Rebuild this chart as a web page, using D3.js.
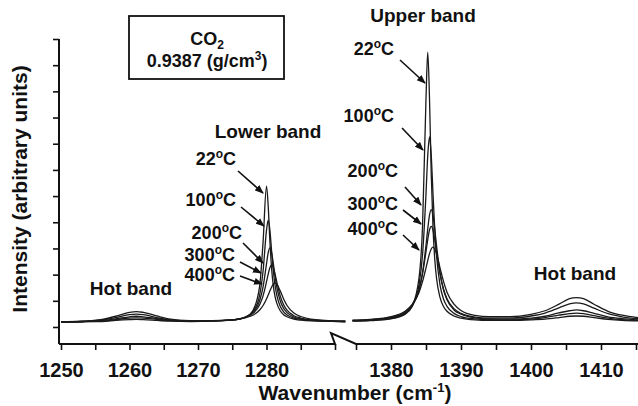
<!DOCTYPE html>
<html>
<head>
<meta charset="utf-8">
<script src="https://cdn.jsdelivr.net/npm/d3@7"></script>
<style>
body { margin: 0; background: #fff; }
text { font-family: "Liberation Sans", Arial, sans-serif; font-weight: bold; fill: #111; }
</style>
</head>
<body>
<div id="container"></div>
<script>
// temperatures of the five spectra
var temps = ['22', '100', '200', '300', '400'];

// lower band segment (Fermi dyad lower component + hot band)
var lowerWn = [1250, 1253, 1256, 1258, 1260, 1261, 1262, 1264, 1266, 1269, 1272, 1275, 1277, 1278, 1279, 1279.5,
    1280, 1280.25, 1280.5, 1280.75, 1281, 1281.25, 1281.5, 1282, 1282.5, 1283, 1284, 1285, 1286.5, 1288.5, 1291.5];
var lower22 = [1.19, 1.20, 1.21, 1.25, 1.28, 1.29, 1.28, 1.25, 1.22, 1.21, 1.22, 1.26, 1.39, 1.62, 2.56, 4.25,
    6.38, 5.61, 4.25, 3.22, 2.56, 2.16, 1.91, 1.62, 1.47, 1.39, 1.30, 1.26, 1.23, 1.22, 1.20];
var lower100 = [1.19, 1.20, 1.23, 1.28, 1.34, 1.35, 1.34, 1.29, 1.24, 1.22, 1.23, 1.27, 1.39, 1.58, 2.22, 3.14,
    4.69, 5.08, 4.69, 3.88, 3.14, 2.59, 2.22, 1.79, 1.58, 1.46, 1.34, 1.29, 1.25, 1.22, 1.21];
var lower200 = [1.19, 1.21, 1.25, 1.31, 1.39, 1.41, 1.39, 1.32, 1.25, 1.23, 1.23, 1.27, 1.38, 1.55, 2.00, 2.53,
    3.41, 3.84, 4.02, 3.84, 3.41, 2.93, 2.53, 2.00, 1.71, 1.55, 1.38, 1.31, 1.26, 1.23, 1.21];
var lower300 = [1.20, 1.21, 1.27, 1.36, 1.47, 1.49, 1.47, 1.36, 1.27, 1.24, 1.23, 1.27, 1.38, 1.51, 1.85, 2.19,
    2.72, 3.02, 3.27, 3.37, 3.27, 3.02, 2.72, 2.19, 1.85, 1.64, 1.43, 1.34, 1.27, 1.24, 1.22];
var lower400 = [1.20, 1.22, 1.29, 1.41, 1.56, 1.59, 1.56, 1.42, 1.30, 1.24, 1.24, 1.27, 1.36, 1.45, 1.65, 1.82,
    2.07, 2.22, 2.38, 2.53, 2.64, 2.68, 2.64, 2.38, 2.07, 1.82, 1.53, 1.40, 1.30, 1.25, 1.22];

// upper band segment
var upperWn = [1374.5, 1377, 1380, 1382, 1383, 1384, 1384.5, 1385, 1385.25, 1385.5, 1385.75, 1386, 1386.25, 1386.5,
    1387, 1387.5, 1388, 1389, 1390, 1392, 1394, 1397, 1400, 1402, 1404, 1405.5, 1406.5, 1407.5, 1409, 1411, 1413, 1415.5];
var upper22 = [1.22, 1.24, 1.31, 1.48, 1.78, 2.87, 4.80, 9.73, 11.50, 9.73, 6.84, 4.80, 3.59, 2.87,
    2.13, 1.78, 1.60, 1.42, 1.34, 1.27, 1.25, 1.25, 1.27, 1.30, 1.36, 1.41, 1.42, 1.41, 1.36, 1.29, 1.25, 1.23];
var upper100 = [1.23, 1.25, 1.33, 1.51, 1.78, 2.61, 3.74, 6.09, 7.55, 8.26, 7.55, 6.09, 4.73, 3.74,
    2.61, 2.07, 1.79, 1.52, 1.40, 1.31, 1.28, 1.27, 1.30, 1.36, 1.45, 1.51, 1.53, 1.51, 1.43, 1.34, 1.28, 1.25];
var upper200 = [1.24, 1.27, 1.35, 1.54, 1.79, 2.41, 3.07, 4.12, 4.75, 5.27, 5.48, 5.27, 4.75, 4.12,
    3.08, 2.42, 2.04, 1.65, 1.49, 1.35, 1.31, 1.30, 1.34, 1.41, 1.54, 1.62, 1.65, 1.62, 1.52, 1.39, 1.32, 1.27];
var upper300 = [1.25, 1.28, 1.37, 1.57, 1.83, 2.44, 3.03, 3.88, 4.34, 4.70, 4.84, 4.70, 4.34, 3.88,
    3.04, 2.45, 2.08, 1.70, 1.52, 1.38, 1.34, 1.34, 1.42, 1.53, 1.73, 1.88, 1.92, 1.88, 1.72, 1.51, 1.39, 1.31];
var upper400 = [1.26, 1.29, 1.40, 1.60, 1.85, 2.32, 2.73, 3.26, 3.54, 3.80, 3.98, 4.05, 3.98, 3.80,
    3.26, 2.74, 2.33, 1.87, 1.63, 1.44, 1.39, 1.39, 1.48, 1.62, 1.87, 2.08, 2.12, 2.08, 1.87, 1.60, 1.45, 1.35];

// axis ticks
var lowerTicks = [1250, 1255, 1260, 1265, 1270, 1275, 1280, 1285, 1290];
var lowerLabels = [1250, 1260, 1270, 1280];
var upperTicks = [1375, 1380, 1385, 1390, 1395, 1400, 1405, 1410, 1415];
var upperLabels = [1380, 1390, 1400, 1410];
var yTicks = [1, 2, 3, 4, 5, 6, 7, 8, 9, 10, 11, 12];

var lowerSeries = [lower22, lower100, lower200, lower300, lower400];
var upperSeries = [upper22, upper100, upper200, upper300, upper400];

var W = 638, H = 406;
var svg = d3.select('#container').append('svg')
    .attr('width', W).attr('height', H)
    .style('display', 'block');

var defs = svg.append('defs');
defs.append('marker')
    .attr('id', 'head')
    .attr('viewBox', '0 -4 9 8')
    .attr('refX', 8).attr('refY', 0)
    .attr('markerUnits', 'userSpaceOnUse')
    .attr('markerWidth', 9).attr('markerHeight', 8)
    .attr('orient', 'auto')
    .append('path').attr('d', 'M0,-3.5L9,0L0,3.5Z').attr('fill', '#111');

var xAxisY = 344, yAxisX = 59;
var xl = d3.scaleLinear().domain([1250, 1290]).range([61, 335]);
var xr = d3.scaleLinear().domain([1375, 1415]).range([356, 636]);
var y = d3.scaleLinear().domain([0.35, 12]).range([xAxisY, 39]);

// spectra
function drawSegment(wn, series, x) {
    var line = d3.line()
        .x(function (d, i) { return x(wn[i]); })
        .y(function (d) { return y(d); })
        .curve(d3.curveMonotoneX);
    svg.append('g').selectAll('path')
        .data(series)
        .enter().append('path')
        .attr('d', line)
        .attr('fill', 'none')
        .attr('stroke', '#1a1a1a')
        .attr('stroke-width', 1.3);
}
drawSegment(lowerWn, lowerSeries, xl);
drawSegment(upperWn, upperSeries, xr);

// y axis (ticks only, no labels)
var yAxis = svg.append('g')
    .attr('transform', 'translate(' + yAxisX + ',0)')
    .call(d3.axisLeft(y).tickValues(yTicks).tickSize(6).tickFormat(''));
yAxis.select('.domain').remove();
yAxis.selectAll('.tick line').attr('stroke', '#111').attr('stroke-width', 1.6);
svg.append('line')
    .attr('x1', yAxisX).attr('x2', yAxisX).attr('y1', 39).attr('y2', xAxisY)
    .attr('stroke', '#111').attr('stroke-width', 2);

// broken x axis
function drawXAxis(x, ticks, labels) {
    var g = svg.append('g')
        .attr('transform', 'translate(0,' + xAxisY + ')')
        .call(d3.axisBottom(x).tickValues(ticks).tickSize(6)
            .tickFormat(function (d) { return labels.indexOf(d) >= 0 ? d : ''; }));
    g.select('.domain').remove();
    g.selectAll('.tick line').attr('stroke', '#111').attr('stroke-width', 1.6);
    g.selectAll('.tick text')
        .attr('y', 0).attr('dy', 0)
        .attr('transform', 'translate(0,33)')
        .style('font-size', '20px')
        .style('font-family', '"Liberation Sans", Arial, sans-serif')
        .style('font-weight', 'bold')
        .attr('fill', '#111');
}
drawXAxis(xl, lowerTicks, lowerLabels);
drawXAxis(xr, upperTicks, upperLabels);

svg.append('path')
    .attr('d', 'M' + yAxisX + ',' + xAxisY + 'H' + xl(1290) +
        'L' + (xl(1290) - 4) + ',' + (xAxisY - 11) +
        'L' + xr(1375) + ',' + xAxisY + 'H' + W)
    .attr('fill', 'none')
    .attr('stroke', '#111')
    .attr('stroke-width', 2);

// axis titles
var xTitle = svg.append('text')
    .attr('x', 355).attr('y', 400)
    .attr('text-anchor', 'middle')
    .style('font-size', '21px');
xTitle.append('tspan').text('Wavenumber (cm');
xTitle.append('tspan').attr('dy', -8).style('font-size', '13px').text('-1');
xTitle.append('tspan').attr('dy', 8).text(')');

svg.append('text')
    .attr('transform', 'translate(27,189) rotate(-90)')
    .attr('text-anchor', 'middle')
    .style('font-size', '21px')
    .text('Intensity (arbitrary units)');

// sample box
svg.append('rect')
    .attr('x', 129).attr('y', 16).attr('width', 155).attr('height', 63)
    .attr('fill', '#fff').attr('stroke', '#111').attr('stroke-width', 1.8);
var co2 = svg.append('text').attr('x', 207).attr('y', 45).attr('text-anchor', 'middle').style('font-size', '18px');
co2.append('tspan').text('CO');
co2.append('tspan').attr('dy', 4).style('font-size', '12px').text('2');
var dens = svg.append('text').attr('x', 207).attr('y', 67).attr('text-anchor', 'middle').style('font-size', '18px');
dens.append('tspan').text('0.9387 (g/cm');
dens.append('tspan').attr('dy', -7).style('font-size', '12px').text('3');
dens.append('tspan').attr('dy', 7).text(')');

// band labels
var bandNotes = [
    { text: 'Lower band', x: 268, y: 138 },
    { text: 'Upper band', x: 423, y: 22 },
    { text: 'Hot band', x: 131, y: 295 },
    { text: 'Hot band', x: 575, y: 280 }
];
svg.append('g').selectAll('text')
    .data(bandNotes)
    .enter().append('text')
    .attr('x', function (d) { return d.x; })
    .attr('y', function (d) { return d.y; })
    .attr('text-anchor', 'middle')
    .style('font-size', '19px')
    .text(function (d) { return d.text; });

// temperature labels with arrows: label end, baseline, arrow tail, arrow tip
var tempNotes = [
    { t: 0, lx: 236, ly: 165, x1: 238, y1: 171, x2: 263, y2: 193 },
    { t: 1, lx: 236, ly: 206, x1: 241, y1: 207, x2: 264, y2: 226 },
    { t: 2, lx: 242, ly: 239, x1: 243, y1: 243, x2: 263, y2: 263 },
    { t: 3, lx: 235, ly: 261, x1: 240, y1: 262, x2: 261, y2: 273 },
    { t: 4, lx: 235, ly: 281, x1: 240, y1: 276, x2: 262, y2: 284 },
    { t: 0, lx: 394, ly: 55, x1: 400, y1: 60, x2: 425, y2: 83 },
    { t: 1, lx: 394, ly: 122, x1: 402, y1: 128, x2: 423, y2: 150 },
    { t: 2, lx: 398, ly: 177, x1: 405, y1: 187, x2: 421, y2: 205 },
    { t: 3, lx: 398, ly: 210, x1: 403, y1: 210, x2: 421, y2: 224 },
    { t: 4, lx: 398, ly: 235, x1: 403, y1: 235, x2: 419, y2: 250 }
];
var notes = svg.append('g').selectAll('g')
    .data(tempNotes)
    .enter().append('g');
var lbl = notes.append('text')
    .attr('x', function (d) { return d.lx; })
    .attr('y', function (d) { return d.ly; })
    .attr('text-anchor', 'end')
    .style('font-size', '18px');
lbl.append('tspan').text(function (d) { return temps[d.t]; });
lbl.append('tspan').attr('dy', -7).style('font-size', '12px').text('o');
lbl.append('tspan').attr('dy', 7).text('C');
notes.append('line')
    .attr('x1', function (d) { return d.x1; })
    .attr('y1', function (d) { return d.y1; })
    .attr('x2', function (d) { return d.x2; })
    .attr('y2', function (d) { return d.y2; })
    .attr('stroke', '#111')
    .attr('stroke-width', 1.6)
    .attr('marker-end', 'url(#head)');
</script>
</body>
</html>
